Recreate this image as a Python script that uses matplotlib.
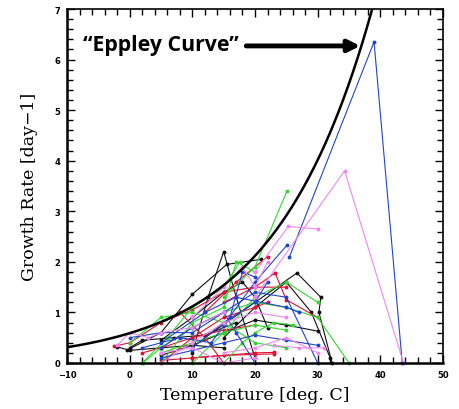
import numpy as np
import matplotlib
matplotlib.use("Agg")
import matplotlib.pyplot as plt
from matplotlib.ticker import MultipleLocator

# Eppley curve parameters: mu = a * b**T
eppley_a = 0.59
eppley_b = 1.066

# Each series: list of (temperature, growth rate)
black_series = [
    [(-0.5, 0.25), (5, 0.6), (10, 1.36), (15.5, 1.95), (21, 2.05)],
    [(10, 0.2), (12.5, 1.3), (15, 2.2), (17, 1.3), (20, 0.1)],
    [(12, 0.5), (20, 1.2), (26.7, 1.78), (30.5, 1.3), (30.2, 1.0), (32.3, 0.0)],
    [(5, 0.15), (10, 0.35), (15, 0.6), (20, 0.85), (25, 0.75), (30, 0.63)],
    [(0, 0.3), (2, 0.45), (7, 0.5), (12, 0.55), (17, 0.8)],
    [(15, 0.5), (20, 1.1), (25, 1.6), (29, 1.0), (32, 0.1)],
    [(-2, 0.32), (0, 0.25), (5, 0.3), (10, 0.35), (15, 0.3)],
    [(5, 0.45), (10, 0.9), (15, 1.4), (18, 1.6), (20, 1.3), (22, 0.7)],
]
red_series = [
    [(10, 0.1), (15, 0.15), (20, 0.2), (23, 0.21)],
    [(5, 0.05), (10, 0.1), (15, 0.15), (20, 0.17), (23, 0.18)],
    [(-2.5, 0.33), (0, 0.4), (5, 0.8), (10, 1.05), (15, 1.4), (20, 1.5), (25, 1.5)],
    [(5, 0.0), (10, 0.5), (15, 0.9), (20, 1.1), (22, 1.2)],
    [(8, 1.0), (12, 0.5), (15, 0.0)],
    [(12, 1.0), (17, 1.6), (22, 2.1)],
    [(15, 1.2), (20, 1.5), (23.2, 1.78), (25, 1.25), (30, 0.9)],
    [(2, 0.2), (5, 0.3), (10, 0.5), (15, 0.65), (20, 0.75)],
]
green_series = [
    [(15, 1.3), (20, 1.9), (25.1, 3.4)],
    [(2.1, 0.0), (5, 0.3), (10, 0.7), (15, 1.0), (20, 1.2), (25, 1.1), (30, 0.9), (35, 0.0)],
    [(2, 0.0), (6, 0.5), (10, 1.1), (15, 1.5), (17.6, 2.0)],
    [(5, 0.2), (10, 0.4), (15, 0.6), (20, 0.75), (25, 0.65)],
    [(10, 0.0), (15, 0.6), (20, 1.3), (25, 1.6), (30, 1.2)],
    [(5, 0.0), (10, 0.8), (15, 1.1), (17, 2.0), (20, 1.8)],
    [(15, 0.0), (18, 0.4), (20, 0.6), (23, 0.8), (26, 0.75)],
    [(0, 0.4), (5, 0.9), (10, 1.0), (15, 0.8), (20, 0.4), (25, 0.3)],
]
blue_series = [
    [(25.5, 2.1), (39, 6.35), (43.5, 0.0)],
    [(15, 0.75), (20, 1.6), (25.1, 2.33)],
    [(5, 0.3), (10, 0.7), (15, 1.0), (20, 1.4), (25, 1.3), (30, 0.0)],
    [(0, 0.5), (5, 0.6), (10, 0.6), (15, 1.0), (17, 0.6), (20, 0.0)],
    [(5, 0.1), (10, 0.25), (15, 0.4), (20, 0.55), (25, 0.45), (30, 0.35)],
    [(10, 0.3), (15, 0.8), (20, 1.2), (22, 1.6)],
    [(2, 0.3), (8, 0.5), (13, 0.4), (16, 0.9), (18, 1.8), (20, 1.7)],
    [(5, 0.4), (12, 1.0), (17, 1.3), (25, 1.1), (27, 1.0)],
]
violet_series = [
    [(20, 1.3), (34.3, 3.8), (43.7, 0.0)],
    [(20, 1.8), (25.3, 2.7), (30, 2.65)],
    [(23, 0.35), (27, 0.3), (31, 0.3)],
    [(-2, 0.35), (0, 0.6), (3, 0.5), (5, 0.6), (10, 0.7), (15, 1.0)],
    [(5, 0.0), (10, 0.4), (15, 0.8), (20, 1.0), (25, 0.9)],
    [(15, 0.2), (20, 0.3), (25, 0.5), (30, 0.2)],
    [(10, 0.9), (15, 1.5), (18, 1.9), (20, 1.5), (22, 2.0)],
    [(5, 0.2), (10, 0.3), (15, 0.0), (20, 0.1)],
]

x_ticks = [-10, 0, 10, 20, 30, 40, 50]
y_ticks = [0, 1, 2, 3, 4, 5, 6, 7]

fig = plt.figure(figsize=(4.6, 4.1), dpi=100)
ax = fig.add_axes([0.1457, 0.1122, 0.963 - 0.1457, 0.9756 - 0.1122])

groups = [
    (black_series, "#111111"),
    (red_series, "#dd1133"),
    (green_series, "#33d633"),
    (blue_series, "#2244cc"),
    (violet_series, "#ee88ee"),
]
for series_list, col in groups:
    for s in series_list:
        xs = [p[0] for p in s]
        ys = [p[1] for p in s]
        ax.plot(xs, ys, color=col, lw=0.8, marker="o", ms=1.8, mec=col, mfc=col,
                clip_on=False, zorder=2)

T = np.linspace(-10, 40, 400)
ax.plot(T, eppley_a * eppley_b ** T, color="black", lw=1.8, zorder=3)

ax.set_xlim(-10, 50)
ax.set_ylim(0, 7)
ax.set_xticks(x_ticks)
ax.set_yticks(y_ticks)
ax.xaxis.set_minor_locator(MultipleLocator(2))
ax.yaxis.set_minor_locator(MultipleLocator(0.2))
ax.tick_params(which="both", direction="in", top=True, right=True,
               labelsize=6, width=1.0)
ax.tick_params(which="major", length=6, pad=5)
ax.tick_params(which="minor", length=4)
for lab in ax.get_xticklabels() + ax.get_yticklabels():
    lab.set_fontweight("bold")
for sp in ax.spines.values():
    sp.set_linewidth(1.2)
ax.spines["left"].set_linewidth(1.8)
ax.spines["bottom"].set_linewidth(1.8)

ax.set_xlabel("Temperature [deg. C]", family="DejaVu Serif", fontsize=12.5, labelpad=5)
ax.set_ylabel("Growth Rate [day\u22121]", family="DejaVu Serif", fontsize=12.5, labelpad=12)

ax.text(-7.45, 6.3, "\u201cEppley Curve\u201d", family="Open Sans", fontweight="bold",
        fontsize=15.3, ha="left", va="center")
ax.annotate("", xy=(36.8, 6.27), xytext=(18.6, 6.27),
            arrowprops=dict(arrowstyle="-|>,head_length=0.7,head_width=0.35",
                            color="black", lw=3.5, shrinkA=0, shrinkB=0))

fig.savefig("out.png", dpi=100)
